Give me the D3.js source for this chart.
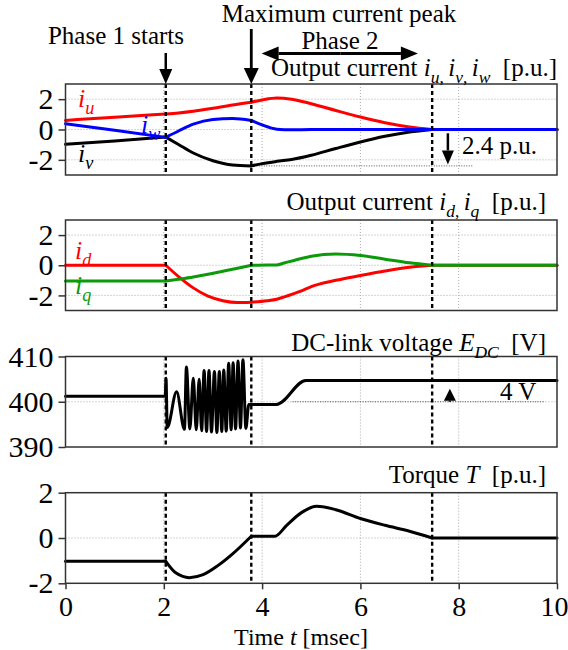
<!DOCTYPE html>
<html><head><meta charset="utf-8">
<script src="https://cdn.jsdelivr.net/npm/d3@7"></script>
<style>
html,body{margin:0;padding:0;background:#fff;}
svg{display:block;font-family:"Liberation Serif","DejaVu Serif","Times New Roman",serif;}
</style></head><body>
<svg id="chart" width="568" height="650"></svg>
<script>
// ---------- data ----------
const phaseT = [2.04, 3.78, 7.46];          // phase 1 start, current peak, end of phase 2 [msec]
const xTicks = [0, 2, 4, 6, 8, 10];
const gridT  = [2, 4, 6, 8];

// three-phase output currents [p.u.]
const tUVW = [0, 1.0, 2.04, 2.3, 2.6, 3.0, 3.4, 3.78, 4.0, 4.3, 4.6, 5.0, 5.5, 6.0, 6.5, 7.0, 7.46, 8.5, 10];
const iU   = [0.60, 0.81, 1.02, 1.09, 1.20, 1.40, 1.62, 1.80, 1.95, 2.08, 2.00, 1.70, 1.25, 0.82, 0.45, 0.17, 0, 0, 0];
const iW   = [0.38, -0.05, -0.52, -0.10, 0.35, 0.66, 0.72, 0.60, 0.30, 0.02, -0.02, 0, 0, 0, 0, 0, 0, 0, 0];
const iV   = [-0.98, -0.76, -0.50, -0.99, -1.55, -2.06, -2.34, -2.40, -2.25, -2.10, -1.98, -1.70, -1.25, -0.82, -0.45, -0.17, 0, 0, 0];

// dq currents [p.u.]
const tDQ = [0, 2.04, 2.3, 2.6, 2.9, 3.2, 3.5, 3.78, 4.1, 4.3, 4.45, 4.8, 5.0, 5.5, 6.0, 6.5, 7.0, 7.46, 10];
const iD  = [0, 0, -0.75, -1.50, -2.05, -2.35, -2.47, -2.45, -2.35, -2.25, -2.10, -1.70, -1.42, -1.00, -0.68, -0.38, -0.13, 0, 0];
const iQ  = [-1.05, -1.05, -0.93, -0.78, -0.60, -0.40, -0.20, 0, 0.01, 0.02, 0.15, 0.45, 0.60, 0.75, 0.65, 0.40, 0.16, 0, 0];

// DC-link voltage [V]
const tDC = [0, 2.03, 2.045, 2.07, 2.26, 2.42, 2.46, 2.53, 2.60, 2.66, 2.72, 2.77, 2.82, 2.87, 2.92, 2.97,
             3.03, 3.08, 3.13, 3.18, 3.22, 3.27, 3.32, 3.37, 3.41, 3.46, 3.51, 3.56, 3.61, 3.67, 3.73, 4.29, 4.89, 10];
const eDC = [401.2, 401.2, 405.2, 394.3, 402.2, 393.9, 407.7, 394.0, 405.2, 393.8, 405.0, 393.6, 406.9, 393.4, 406.9, 393.3,
             406.7, 393.2, 406.7, 393.4, 407.0, 393.5, 408.5, 393.8, 408.6, 394.0, 409.0, 394.2, 409.3, 394.1, 399.4, 399.4, 404.7, 404.7];

// torque [p.u.]
const tTq = [0, 2.04, 2.25, 2.52, 2.8, 3.1, 3.4, 3.78, 4.26, 4.5, 4.8, 5.11, 5.5, 6.0, 6.5, 7.0, 7.46, 10];
const torq = [-1.03, -1.03, -1.55, -1.75, -1.62, -1.22, -0.70, 0.08, 0.08, 0.56, 1.12, 1.40, 1.25, 0.86, 0.56, 0.30, 0, 0];

// ---------- layout ----------
const FONT = "'Liberation Serif','DejaVu Serif','Times New Roman',serif";
const X0 = 65.5, X1 = 557;
const FRAME = "#333";
const svg = d3.select("#chart");
const x = d3.scaleLinear().domain([0, 10]).range([X0, X1]);

const panels = [
  {top: 84,    bottom: 175,   domain: [-3, 3],     ticks: [-2, 0, 2]},
  {top: 220,   bottom: 310.5, domain: [-3, 3],     ticks: [-2, 0, 2]},
  {top: 356.5, bottom: 447,   domain: [390, 410],  ticks: [390, 400, 410]},
  {top: 492.7, bottom: 583.3, domain: [-2, 2],     ticks: [-2, 0, 2]}
];

// split a series at the phase boundaries so the corners there stay sharp
function pieces(ts, vs) {
  const out = []; let cur = [];
  ts.forEach((t, i) => {
    cur.push([t, vs[i]]);
    if (i > 0 && i < ts.length - 1 && phaseT.some(b => Math.abs(b - t) < 1e-9)) {
      out.push(cur); cur = [[t, vs[i]]];
    }
  });
  out.push(cur);
  return out;
}

function rich(parent, px, py, parts, size, anchor, fill) {
  const t = parent.append("text")
    .attr("x", px).attr("y", py)
    .attr("font-size", size)
    .attr("font-family", FONT)
    .attr("text-anchor", anchor || "start")
    .attr("fill", fill || "#000")
    .attr("xml:space", "preserve")
    .style("white-space", "pre");
  let shift = 0;
  parts.forEach(p => {
    const s = t.append("tspan").text(p.s);
    if (p.i) s.attr("font-style", "italic");
    const want = p.sub ? size * 0.28 : 0;
    if (want !== shift) { s.attr("dy", want - shift); shift = want; }
    if (p.sub) s.attr("font-size", size * 0.7);
  });
  return t;
}

function arrow(parent, x1, y1, x2, y2, headLen, headW, sw) {
  const ang = Math.atan2(y2 - y1, x2 - x1);
  const bx = x2 - headLen * Math.cos(ang), by = y2 - headLen * Math.sin(ang);
  parent.append("line").attr("x1", x1).attr("y1", y1).attr("x2", bx).attr("y2", by)
    .attr("stroke", "#000").attr("stroke-width", sw);
  const nx = -Math.sin(ang) * headW / 2, ny = Math.cos(ang) * headW / 2;
  parent.append("polygon")
    .attr("points", `${x2},${y2} ${bx + nx},${by + ny} ${bx - nx},${by - ny}`)
    .attr("fill", "#000");
}

const line = (y) => d3.line().x(d => x(d[0])).y(d => y(d[1])).curve(d3.curveMonotoneX);

function makePanel(p) {
  const y = d3.scaleLinear().domain(p.domain).range([p.bottom, p.top]);
  const g = svg.append("g");
  // dotted grid
  g.selectAll(null).data(p.ticks.filter(v => v > p.domain[0] && v < p.domain[1])).join("line")
    .attr("x1", X0).attr("x2", X1).attr("y1", d => y(d)).attr("y2", d => y(d))
    .attr("stroke", "#aaa").attr("stroke-width", 1).attr("stroke-dasharray", "1,2");
  g.selectAll(null).data(gridT).join("line")
    .attr("x1", d => x(d)).attr("x2", d => x(d)).attr("y1", p.top).attr("y2", p.bottom)
    .attr("stroke", "#aaa").attr("stroke-width", 1).attr("stroke-dasharray", "1,2");
  // y axis
  const ax = g.append("g").attr("transform", `translate(${X0},0)`)
    .call(d3.axisLeft(y).tickValues(p.ticks).tickSize(7).tickPadding(5).tickFormat(d => String(d)));
  ax.attr("font-size", 30).attr("font-family", FONT);
  ax.select(".domain").remove();
  ax.selectAll("line").attr("stroke", FRAME).attr("stroke-width", 1.5);
  ax.selectAll("text").attr("fill", "#000");
  const data = g.append("g");
  const over = g.append("g");
  return {g, y, data, over, p};
}

function finishPanel(P) {
  // phase markers
  P.over.selectAll(null).data(phaseT).join("line")
    .attr("x1", d => x(d)).attr("x2", d => x(d)).attr("y1", P.p.top).attr("y2", P.p.bottom)
    .attr("stroke", "#000").attr("stroke-width", 2.4).attr("stroke-dasharray", "4,3");
  P.over.append("rect").attr("x", X0).attr("y", P.p.top)
    .attr("width", X1 - X0).attr("height", P.p.bottom - P.p.top)
    .attr("fill", "none").attr("stroke", FRAME).attr("stroke-width", 1.5);
}

function series(P, ts, vs, color) {
  P.data.selectAll(null).data(pieces(ts, vs)).join("path")
    .attr("d", line(P.y)).attr("fill", "none").attr("stroke", color)
    .attr("stroke-width", 3).attr("stroke-linejoin", "round").attr("stroke-linecap", "round");
}

const RED = "#ff0000", BLUE = "#0000ff", GREEN = "#0a9a0a";

// ---- panel 1: iu, iv, iw ----
const P1 = makePanel(panels[0]);
P1.data.append("line").attr("x1", x(3.78)).attr("x2", x(8.3)).attr("y1", P1.y(-2.4)).attr("y2", P1.y(-2.4))
  .attr("stroke", "#555").attr("stroke-width", 1).attr("stroke-dasharray", "1,1.5");
series(P1, tUVW, iV, "#000");
series(P1, tUVW, iU, RED);
series(P1, tUVW, iW, BLUE);
finishPanel(P1);
rich(svg, 78, 107, [{s: "i", i: 1}, {s: "u", i: 1, sub: 1}], 26, "start", RED);
rich(svg, 141, 133, [{s: "i", i: 1}, {s: "w", i: 1, sub: 1}], 26, "start", BLUE);
rich(svg, 78, 162, [{s: "i", i: 1}, {s: "v", i: 1, sub: 1}], 26, "start", "#000");
arrow(svg, x(7.78), P1.y(-0.25), x(7.78), P1.y(-2.3), 14, 12, 2.5);
rich(svg, 462, 153.5, [{s: "2.4 p.u."}], 25);
rich(svg, 557, 76, [{s: "Output current "}, {s: "i", i: 1}, {s: "u", i: 1, sub: 1}, {s: ", ", sub: 1},
  {s: "i", i: 1}, {s: "v", i: 1, sub: 1}, {s: ", ", sub: 1}, {s: "i", i: 1}, {s: "w", i: 1, sub: 1}, {s: "  [p.u.]"}], 25, "end");

// ---- panel 2: id, iq ----
const P2 = makePanel(panels[1]);
series(P2, tDQ, iD, RED);
series(P2, tDQ, iQ, GREEN);
finishPanel(P2);
rich(svg, 75, 259, [{s: "i", i: 1}, {s: "d", i: 1, sub: 1}], 26, "start", RED);
rich(svg, 75, 294, [{s: "i", i: 1}, {s: "q", i: 1, sub: 1}], 26, "start", GREEN);
rich(svg, 546, 210, [{s: "Output current "}, {s: "i", i: 1}, {s: "d", i: 1, sub: 1}, {s: ", ", sub: 1},
  {s: "i", i: 1}, {s: "q", i: 1, sub: 1}, {s: "  [p.u.]"}], 25, "end");

// ---- panel 3: DC-link voltage ----
const P3 = makePanel(panels[2]);
P3.data.append("line").attr("x1", x(4.62)).attr("x2", x(9.75)).attr("y1", P3.y(400)).attr("y2", P3.y(400))
  .attr("stroke", "#555").attr("stroke-width", 1).attr("stroke-dasharray", "1,1.5");
series(P3, tDC, eDC, "#000");
finishPanel(P3);
arrow(svg, x(7.82), P3.y(400), x(7.82), P3.y(402.9), 12, 12, 2.5);
rich(svg, 500, 400, [{s: "4 V"}], 25);
rich(svg, 546, 351, [{s: "DC-link voltage "}, {s: "E", i: 1}, {s: "DC", i: 1, sub: 1}, {s: "  [V]"}], 25, "end");

// ---- panel 4: torque ----
const P4 = makePanel(panels[3]);
series(P4, tTq, torq, "#000");
finishPanel(P4);
rich(svg, 546, 483, [{s: "Torque "}, {s: "T", i: 1}, {s: "  [p.u.]"}], 25, "end");

const bx = svg.append("g").attr("transform", `translate(0,${panels[3].bottom})`)
  .call(d3.axisBottom(x).tickValues(xTicks).tickSize(6).tickPadding(7).tickFormat(d => String(d)));
bx.attr("font-size", 28).attr("font-family", FONT);
bx.select(".domain").remove();
bx.selectAll("line").attr("stroke", FRAME).attr("stroke-width", 1.5);
bx.selectAll("text").attr("fill", "#000");
// keep the last label inside the canvas
bx.selectAll("text").filter(d => d === 10).attr("text-anchor", "end").attr("dx", 11);
rich(svg, 301, 644.6, [{s: "Time "}, {s: "t", i: 1}, {s: " [msec]"}], 24, "middle");

// ---- top annotations ----
rich(svg, 116, 44, [{s: "Phase 1 starts"}], 25, "middle");
rich(svg, 339, 22, [{s: "Maximum current peak"}], 25, "middle");
rich(svg, 340, 49, [{s: "Phase 2"}], 25, "middle");
arrow(svg, x(phaseT[0]), 53, x(phaseT[0]), panels[0].top, 15, 13, 2.5);
arrow(svg, x(phaseT[1]), 29, x(phaseT[1]), panels[0].top, 16, 15, 2.8);
// double-headed arrow spanning phase 2
arrow(svg, x(5.6), 53.5, x(3.99), 53.5, 17, 14, 3);
arrow(svg, x(5.6), 53.5, x(7.17), 53.5, 17, 14, 3);
</script>
</body></html>
